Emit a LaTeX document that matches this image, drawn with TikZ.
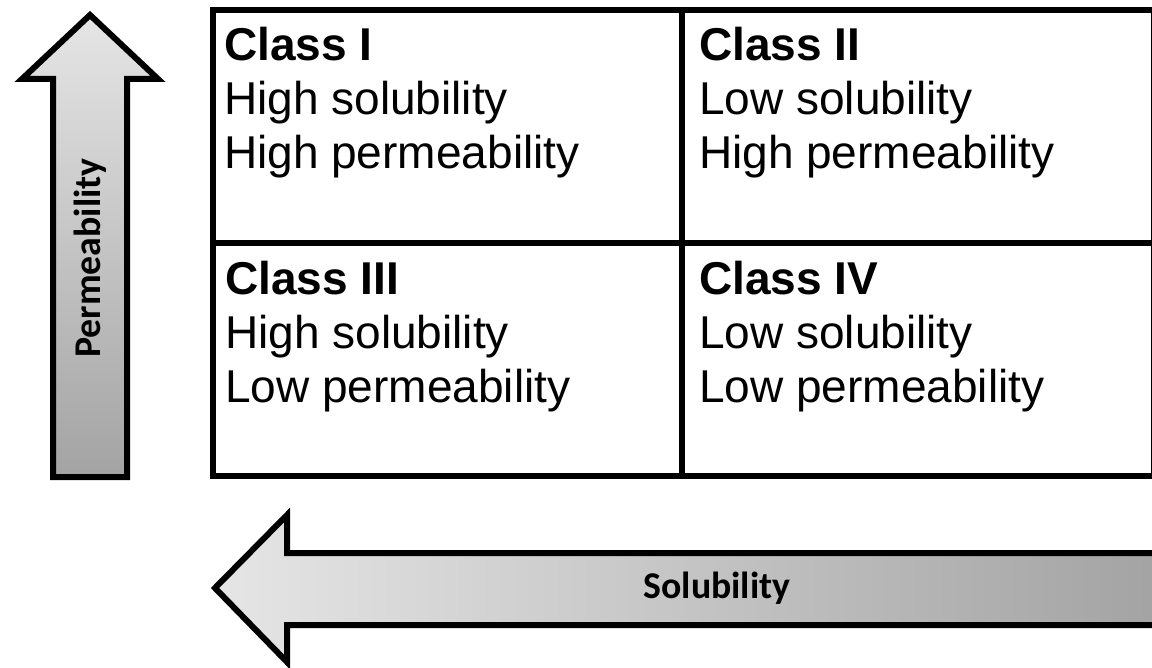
\documentclass[tikz,border=0pt]{standalone}
\usepackage{fontspec}
\setmainfont{Liberation Sans}
\newfontfamily\axisfont{Carlito}
\usetikzlibrary{positioning}

\definecolor{shadelight}{gray}{0.90}
\definecolor{shadedark}{gray}{0.64}

\begin{document}
\begin{tikzpicture}[
    x=0.02cm, y=0.02cm,
    cell/.style={rectangle, draw, line width=0.12cm, inner sep=0pt, outer sep=0pt, minimum height=4.66cm, anchor=north west},
    lcell/.style={cell, minimum width=9.38cm},
    rcell/.style={cell, minimum width=9.44cm},
    txt/.style={inner sep=0pt, outer sep=0pt, align=left, font=\fontsize{26.2pt}{30.7pt}\selectfont},
    bigarrow/.style={draw, line width=0.12cm, line join=miter},
    axislabel/.style={font=\axisfont\bfseries\fontsize{21.5pt}{25pt}\selectfont}
]
    \useasboundingbox (0,0) rectangle (1152,667);
    \clip (0,0) rectangle (1152,667);

    % Classes
    \node[lcell] (c1) at (213,657) {};
    \node[rcell] (c2) at (682,657) {};
    \node[lcell] (c3) at (213,424) {};
    \node[rcell] (c4) at (682,424) {};

    \node[txt, below right=0.34cm and 0.22cm of c1.north west] (t1) {\textbf{Class I}\\High solubility\\High permeability};
    \node[txt, below right=0.34cm and 0.34cm of c2.north west] (t2) {\textbf{Class II}\\Low solubility\\High permeability};
    \node[txt, below right=0.36cm and 0.24cm of c3.north west] (t3) {\textbf{Class III}\\High solubility\\Low permeability};
    \node[txt, below right=0.36cm and 0.34cm of c4.north west] (t4) {\textbf{Class IV}\\Low solubility\\Low permeability};

    % Permeability arrow
    \path[bigarrow, top color=shadelight, bottom color=shadedark]
        (90,652) -- (158,588) -- (127,588) -- (127,190) -- (53,190) -- (53,588) -- (22,588) -- cycle;
    \node[axislabel, rotate=90] (perm) at (90,409) {Permeability};

    % Solubility arrow
    \path[bigarrow, left color=shadelight, right color=shadedark]
        (215,79) -- (287,152) -- (287,114) -- (1160,114) -- (1160,42) -- (287,42) -- (287,5) -- cycle;
    \node[axislabel] (sol) at (717,79) {Solubility};
\end{tikzpicture}
\end{document}
